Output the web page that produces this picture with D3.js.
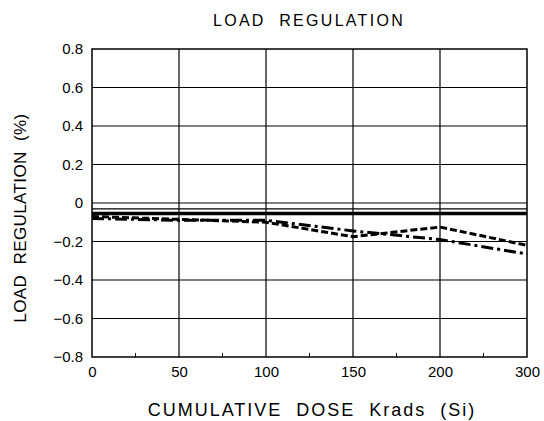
<!DOCTYPE html>
<html><head><meta charset="utf-8">
<script src="https://cdn.jsdelivr.net/npm/d3@7"></script>
<style>
body{margin:0;background:#fff;}
text{font-family:"Liberation Sans","DejaVu Sans",sans-serif;fill:#000;}
</style></head>
<body><svg id="c" width="544" height="421"></svg>
<script>
const doseX = [0, 50, 100, 150, 200, 300];
const seriesThin = [-0.03, -0.03, -0.03, -0.03, -0.03, -0.03];
const seriesThick = [-0.055, -0.055, -0.055, -0.055, -0.055, -0.055];
const seriesDash = [-0.07, -0.085, -0.1, -0.175, -0.125, -0.22];
const seriesDashDot = [-0.08, -0.09, -0.09, -0.145, -0.19, -0.265];
const xTickValues = [0, 50, 100, 150, 200, 300];
const xTickLabels = ["0", "50", "100", "150", "200", "300"];
const xMinorTicks = [25, 75, 125, 175, 250];
const yTickValues = [-0.8, -0.6, -0.4, -0.2, 0, 0.2, 0.4, 0.6, 0.8];
const yTickLabels = ["\u22120.8", "\u22120.6", "\u22120.4", "\u22120.2", "0", "0.2", "0.4", "0.6", "0.8"];

const svg = d3.select("#c");
const L = 92, R = 527, T = 49, B = 357;
const step = (R - L) / 5;
// axis is evenly spaced per tick (last interval 200-300 same width as others)
const x = d3.scaleLinear().domain(xTickValues).range(xTickValues.map((d, i) => L + i * step));
const y = d3.scaleLinear().domain([-0.8, 0.8]).range([B, T]);

// grid
const g = svg.append("g");
g.selectAll("line.v").data(xTickValues.slice(1, -1)).enter().append("line")
  .attr("x1", d => x(d)).attr("x2", d => x(d)).attr("y1", T).attr("y2", B)
  .attr("stroke", "#000").attr("stroke-width", 1.2);
g.selectAll("line.h").data(yTickValues.slice(1, -1)).enter().append("line")
  .attr("x1", L).attr("x2", R).attr("y1", d => y(d)).attr("y2", d => y(d))
  .attr("stroke", "#000").attr("stroke-width", 1.2);
// minor ticks bottom
g.selectAll("line.m").data(xMinorTicks).enter().append("line")
  .attr("x1", d => x(d)).attr("x2", d => x(d)).attr("y1", B).attr("y2", B - 4)
  .attr("stroke", "#000").attr("stroke-width", 1);

// frame
svg.append("rect").attr("x", L).attr("y", T).attr("width", R - L).attr("height", B - T)
  .attr("fill", "none").attr("stroke", "#000").attr("stroke-width", 1.5);

// axes labels
const xAxis = d3.axisBottom(x).tickValues(xTickValues).tickSize(0).tickPadding(6)
  .tickFormat((d, i) => xTickLabels[i]);
const xa = svg.append("g").attr("transform", `translate(0,${B})`).call(xAxis);
xa.select(".domain").remove();
xa.selectAll("text").style("font-size", "15px").style("font-family", "Liberation Sans, sans-serif").attr("dy", "0.9em");

const yAxis = d3.axisLeft(y).tickValues(yTickValues).tickSize(0).tickPadding(9)
  .tickFormat((d, i) => yTickLabels[i]);
const ya = svg.append("g").attr("transform", `translate(${L},0)`).call(yAxis);
ya.select(".domain").remove();
ya.selectAll("text").style("font-size", "15px").style("font-family", "Liberation Sans, sans-serif");

// series
const line = vals => d3.line().x((d, i) => x(doseX[i])).y(d => y(d))(vals);
svg.append("path").attr("d", line(seriesThin)).attr("fill", "none").attr("stroke", "#000").attr("stroke-width", 1.2);
svg.append("path").attr("d", line(seriesThick)).attr("fill", "none").attr("stroke", "#000").attr("stroke-width", 3.5);
svg.append("path").attr("d", line(seriesDash)).attr("fill", "none").attr("stroke", "#000").attr("stroke-width", 3)
  .attr("stroke-dasharray", "7,3");
svg.append("path").attr("d", line(seriesDashDot)).attr("fill", "none").attr("stroke", "#000").attr("stroke-width", 3)
  .attr("stroke-dasharray", "12,4,3,4");

// titles
svg.append("text").attr("x", 309).attr("y", 26).attr("text-anchor", "middle")
  .style("font-size", "16px").style("letter-spacing", "2.3px").style("white-space", "pre")
  .text("LOAD  REGULATION");
svg.append("text").attr("x", 312).attr("y", 416).attr("text-anchor", "middle")
  .style("font-size", "18px").style("letter-spacing", "2px").style("white-space", "pre")
  .text("CUMULATIVE  DOSE  Krads  (Si)");
svg.append("text").attr("transform", "translate(26,218) rotate(-90)").attr("text-anchor", "middle")
  .style("font-size", "17px").style("letter-spacing", "0.4px").style("white-space", "pre")
  .text("LOAD  REGULATION  (%)");
</script></body></html>
